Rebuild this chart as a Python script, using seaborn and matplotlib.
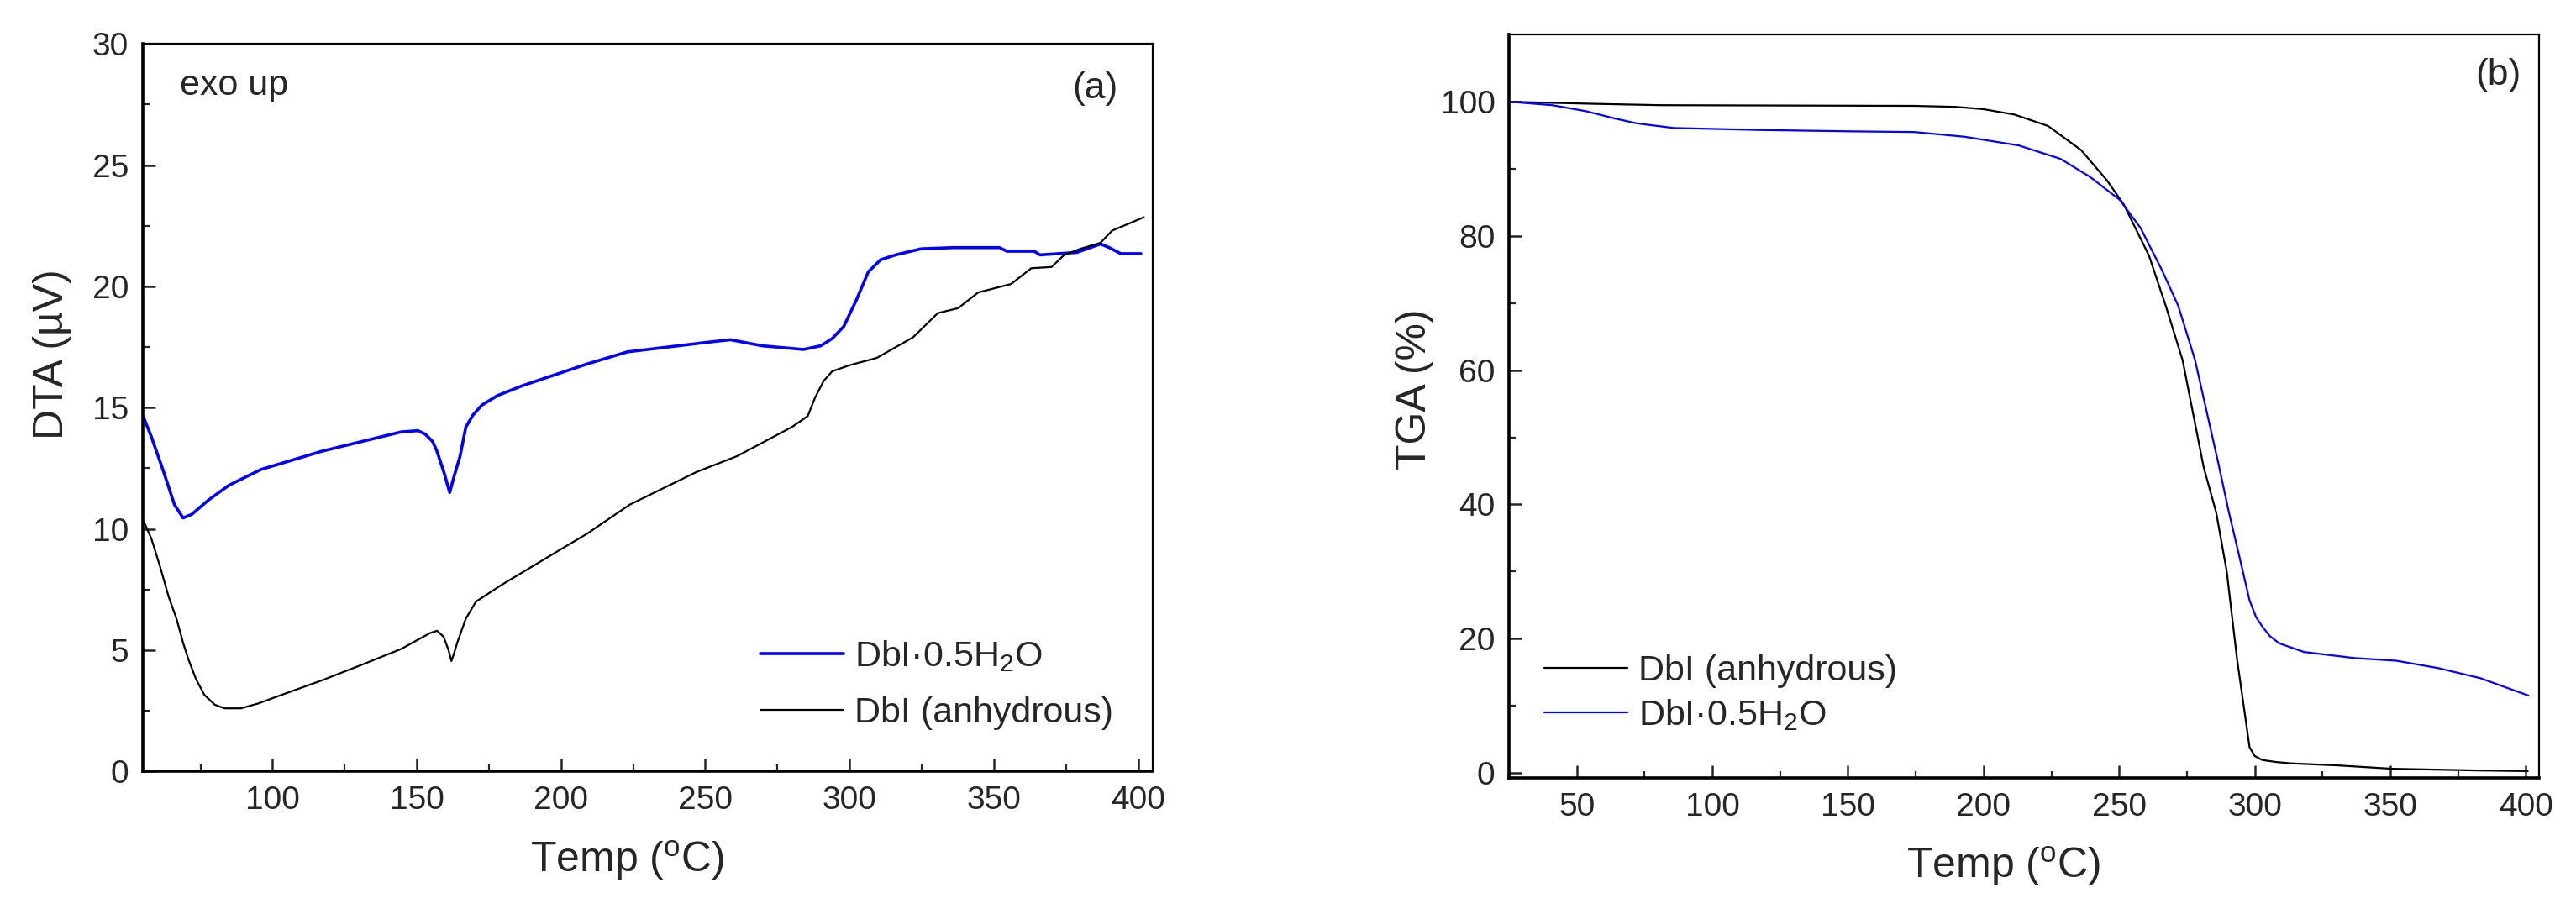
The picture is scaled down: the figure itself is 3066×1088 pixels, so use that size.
import numpy as np
import pandas as pd
import matplotlib
matplotlib.use("Agg")
import matplotlib.pyplot as plt
from matplotlib.ticker import MultipleLocator, FixedLocator
import seaborn as sns

# --- data ---
# (a) DTA, DbI·0.5H2O
dta_hyd_T = [55.3, 58, 62.4, 66, 69, 72, 77.9, 84.9, 96, 117, 144.6, 150.4, 153, 155.5, 157,
             159.5, 161.4, 163, 165, 167, 169.5, 172.5, 178, 186.5, 209, 223, 251, 258.7, 269.8,
             284, 290, 294, 298, 302.4, 306.5, 310.8, 316, 324.8, 336, 352, 354.5, 364, 366,
             378.7, 387, 390, 394, 401]
dta_hyd_V = [14.6, 13.8, 12.3, 11.0, 10.45, 10.6, 11.2, 11.8, 12.45, 13.2, 14.0, 14.05, 13.9,
             13.6, 13.2, 12.3, 11.5, 12.2, 13.0, 14.2, 14.7, 15.1, 15.5, 15.9, 16.8, 17.3, 17.7,
             17.8, 17.55, 17.4, 17.55, 17.85, 18.35, 19.45, 20.6, 21.1, 21.3, 21.55, 21.6, 21.6,
             21.45, 21.45, 21.3, 21.4, 21.75, 21.6, 21.35, 21.35]

# (a) DTA, DbI anhydrous
dta_anh_T = [55.4, 58, 61, 64, 66.7, 69, 70.9, 73.5, 76.4, 80, 83.4, 89, 95, 103, 117, 131,
             144.6, 154.5, 157, 159.3, 161, 162, 163, 164, 167, 170.5, 179.5, 200.5, 209,
             223.8, 247, 261, 280, 285.5, 288, 291, 294, 300, 309.4, 322, 330.6, 337.6, 344.6,
             356, 363, 370, 374.4, 380, 387, 391, 402]
dta_anh_V = [10.3, 9.6, 8.45, 7.2, 6.3, 5.3, 4.6, 3.8, 3.15, 2.75, 2.6, 2.6, 2.8, 3.15, 3.75,
             4.4, 5.05, 5.7, 5.8, 5.55, 5.0, 4.55, 4.9, 5.3, 6.3, 7.0, 7.7, 9.2, 9.8, 11.0,
             12.35, 13.0, 14.2, 14.65, 15.4, 16.1, 16.5, 16.75, 17.05, 17.9, 18.9, 19.1, 19.75,
             20.1, 20.75, 20.8, 21.3, 21.55, 21.8, 22.3, 22.85]

# (b) TGA, DbI anhydrous
tga_anh_T = [25.4, 56.5, 81, 174.4, 189.8, 200, 211.4, 223.8, 236, 245.5, 251.7, 261, 267.2,
             273.4, 281.2, 285.8, 289.7, 293.5, 296.6, 298.1, 300, 302.8, 308, 313.6, 330.6,
             350.6, 382, 400.7]
tga_anh_W = [100, 99.7, 99.5, 99.4, 99.25, 98.9, 98.1, 96.4, 92.8, 88.3, 84.7, 77.1, 69.6,
             61.5, 45.5, 38.8, 30, 16.9, 8.1, 3.8, 2.5, 1.9, 1.6, 1.4, 1.1, 0.6, 0.35, 0.25]

# (b) TGA, DbI·0.5H2O
tga_hyd_T = [25.4, 41, 53.4, 64.2, 72, 85.7, 117.9, 151.5, 174.4, 192.9, 213, 228.4, 239.3,
             250.2, 257.9, 265.7, 271.8, 278, 286.5, 290.5, 294.3, 298.1, 300.5, 302.8, 305.5,
             309, 318.2, 336.7, 352.2, 367.7, 383.2, 401]
tga_hyd_W = [100, 99.5, 98.6, 97.5, 96.8, 96.1, 95.8, 95.6, 95.5, 94.8, 93.5, 91.5, 88.8,
             85.4, 81.2, 75, 69.6, 61.5, 46.3, 38.8, 32.3, 25.7, 23.2, 21.8, 20.4, 19.3, 18,
             17.1, 16.7, 15.6, 14.1, 11.5]

lab_hyd = "DbI\u00b70.5H$_2$O"
lab_anh = "DbI (anhydrous)"

# --- style ---
sns.set_style("ticks")
plt.rcParams['font.family'] = ['Liberation Sans', 'DejaVu Sans']
plt.rcParams['mathtext.fontset'] = 'custom'
plt.rcParams['mathtext.rm'] = 'Liberation Sans'
plt.rcParams['mathtext.it'] = 'Liberation Sans'
plt.rcParams['mathtext.default'] = 'regular'

BLUE = "#0000ff"

fig = plt.figure(figsize=(30.66, 10.88), dpi=100)
ax1 = fig.add_axes([0.0554, 0.156, 0.392, 0.796])
ax2 = fig.add_axes([0.5858, 0.149, 0.400, 0.813])


def style_axes(ax):
    for side in ["top", "right"]:
        ax.spines[side].set_linewidth(1.6)
        ax.spines[side].set_color("black")
    for side in ["left", "bottom"]:
        ax.spines[side].set_linewidth(2.6)
        ax.spines[side].set_color("black")
    ax.tick_params(which="major", direction="in", length=11, width=1.8,
                   labelsize=28, pad=12, top=False, right=False)
    ax.tick_params(which="minor", direction="in", length=6, width=1.6,
                   top=False, right=False)
    ax.grid(False)


# (a) DTA
sns.lineplot(x=dta_hyd_T, y=dta_hyd_V, ax=ax1, color=BLUE, linewidth=2.6,
             sort=False, estimator=None, label=lab_hyd)
sns.lineplot(x=dta_anh_T, y=dta_anh_V, ax=ax1, color="black", linewidth=1.6,
             sort=False, estimator=None, label=lab_anh)
ax1.set_xlim(55, 405)
ax1.set_ylim(0, 30)
ax1.xaxis.set_major_locator(FixedLocator([100, 150, 200, 250, 300, 350, 400]))
ax1.xaxis.set_minor_locator(FixedLocator([75, 125, 175, 225, 275, 325, 375]))
ax1.yaxis.set_major_locator(MultipleLocator(5))
ax1.yaxis.set_minor_locator(MultipleLocator(2.5))
style_axes(ax1)
ax1.set_xlabel("Temp ($^{o}$C)", fontsize=36)
ax1.set_ylabel("DTA (\u00b5V)", fontsize=36)
ax1.xaxis.set_label_coords(0.48, -0.092)
ax1.yaxis.set_label_coords(-0.071, 0.573)
ax1.text(0.037, 0.942, "exo up", transform=ax1.transAxes, fontsize=31,
         ha="left", va="center")
ax1.text(0.943, 0.939, "(a)", transform=ax1.transAxes, fontsize=32,
         ha="center", va="center")
ax1.legend(loc="upper left", bbox_to_anchor=(0.612, 0.182), frameon=False,
           fontsize=31, handlelength=2.3, handletextpad=0.3, labelspacing=0.62,
           borderpad=0, borderaxespad=0)

# (b) TGA
sns.lineplot(x=tga_anh_T, y=tga_anh_W, ax=ax2, color="black", linewidth=1.6,
             sort=False, estimator=None, label=lab_anh)
sns.lineplot(x=tga_hyd_T, y=tga_hyd_W, ax=ax2, color=BLUE, linewidth=1.6,
             sort=False, estimator=None, label=lab_hyd)
ax2.set_xlim(25, 405)
ax2.set_ylim(-0.75, 110)
ax2.xaxis.set_major_locator(FixedLocator([50, 100, 150, 200, 250, 300, 350, 400]))
ax2.xaxis.set_minor_locator(FixedLocator([75, 125, 175, 225, 275, 325, 375]))
ax2.yaxis.set_major_locator(FixedLocator([0, 20, 40, 60, 80, 100]))
ax2.yaxis.set_minor_locator(FixedLocator([10, 30, 50, 70, 90]))
style_axes(ax2)
ax2.set_xlabel("Temp ($^{o}$C)", fontsize=36)
ax2.set_ylabel("TGA (%)", fontsize=36)
ax2.xaxis.set_label_coords(0.48, -0.09)
ax2.yaxis.set_label_coords(-0.073, 0.523)
ax2.text(0.960, 0.946, "(b)", transform=ax2.transAxes, fontsize=32,
         ha="center", va="center")
ax2.legend(loc="upper left", bbox_to_anchor=(0.034, 0.166), frameon=False,
           fontsize=31, handlelength=2.3, handletextpad=0.3, labelspacing=0.25,
           borderpad=0, borderaxespad=0)

fig.savefig("out.png", dpi=100, facecolor="white")
